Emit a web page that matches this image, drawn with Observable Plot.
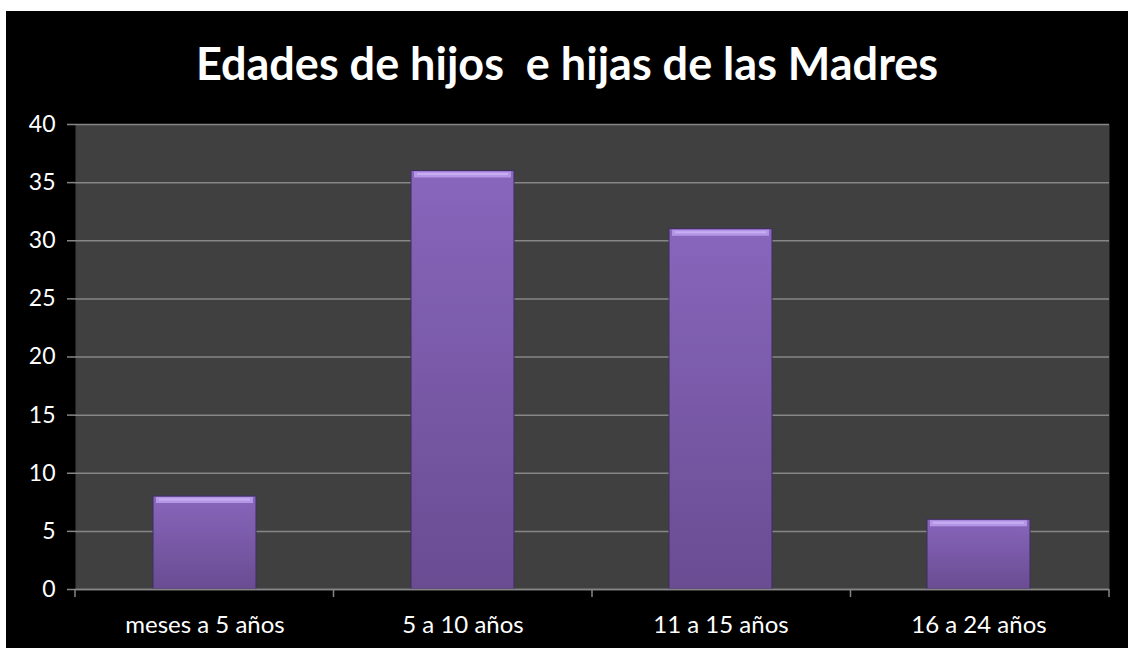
<!DOCTYPE html>
<html>
<head>
<meta charset="utf-8">
<script src="https://cdn.jsdelivr.net/npm/d3@7"></script>
<script src="https://cdn.jsdelivr.net/npm/@observablehq/plot@0.6"></script>
<style>
  html, body { margin: 0; padding: 0; background: #ffffff; }
  #box { position: absolute; left: 6px; top: 11px; width: 1122px; height: 637px; background: #000000; overflow: hidden; }
  #title { height: 80px; line-height: 104px; text-align: center; color: #ffffff; font-family: Lato, "Open Sans", sans-serif; font-weight: bold; font-size: 45px; white-space: pre; overflow: visible; }
  #chart svg { display: block; }
</style>
</head>
<body>
<div id="box">
  <div id="title">Edades de hijos  e hijas de las Madres</div>
  <div id="chart"></div>
</div>
<script>
const categories = ["meses a 5 años", "5 a 10 años", "11 a 15 años", "16 a 24 años"];
const values = [8, 36, 31, 6];
const yTicks = [0, 5, 10, 15, 20, 25, 30, 35, 40];

const data = categories.map((c, i) => ({category: c, value: values[i]}));

const font = "Lato, 'Open Sans', sans-serif";

const defs = () => {
  const svg = d3.create("svg:g");
  const d = svg.append("defs");
  const g = d.append("linearGradient").attr("id", "barGrad").attr("x1", 0).attr("x2", 0).attr("y1", 0).attr("y2", 1);
  g.append("stop").attr("offset", "0%").attr("stop-color", "#8866bc");
  g.append("stop").attr("offset", "100%").attr("stop-color", "#694c92");
  return svg.node();
};

// category boundary ticks below the x axis
const boundaryTicks = (index, scales, values, dims) => {
  const g = d3.create("svg:g");
  const left = dims.marginLeft;
  const right = dims.width - dims.marginRight;
  const bottom = dims.height - dims.marginBottom;
  const n = categories.length;
  for (let i = 0; i <= n; i++) {
    const x = left + (right - left) * i / n;
    g.append("line").attr("x1", x).attr("x2", x).attr("y1", bottom).attr("y2", bottom + 8)
      .attr("stroke", "#868686").attr("stroke-width", 1.5);
  }
  return g.node();
};

const chart = Plot.plot({
  width: 1122,
  height: 557,
  marginTop: 33,
  marginBottom: 59,
  marginLeft: 69,
  marginRight: 19,
  style: {background: "transparent", color: "#ffffff", fontFamily: font, fontSize: "24px", overflow: "visible"},
  x: {domain: categories, paddingInner: 0.6, paddingOuter: 0.3, label: null},
  y: {domain: [0, 40], label: null},
  marks: [
    defs,
    Plot.frame({fill: "#404040", stroke: null}),
    Plot.gridY(yTicks, {stroke: "#868686", strokeOpacity: 1, strokeWidth: 1.5}),
    Plot.ruleX([0], {frameAnchor: "left", stroke: "#868686", strokeWidth: 1.5}),
    Plot.axisY(yTicks, {tickSize: 8, tickPadding: 12, stroke: "#868686", strokeWidth: 1.5, fill: "#ffffff", fontSize: 23, label: null}),
    Plot.barY(data, {x: "category", y: "value", fill: "url(#barGrad)", stroke: "#3f2c5e", strokeWidth: 1}),
    Plot.tickY(data, {x: "category", y: "value", stroke: "#b596e6", strokeWidth: 6, dy: 3.5, inset: 3}),
    Plot.tickY(data, {x: "category", y: "value", stroke: "#c7aef2", strokeWidth: 2, dy: 3, inset: 6}),
    Plot.ruleY([0], {stroke: "#868686", strokeWidth: 1.5}),
    boundaryTicks,
    Plot.axisX({tickSize: 0, tickPadding: 26, fill: "#ffffff", fontSize: 24, label: null})
  ]
});

document.getElementById("chart").appendChild(chart);
</script>
</body>
</html>
